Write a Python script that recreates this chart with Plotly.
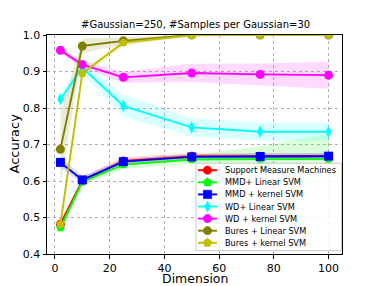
import math
import plotly.graph_objects as go

dims = [2, 10, 25, 50, 75, 100]

names = ["Support Measure Machines", "MMD+ Linear SVM", "MMD + kernel SVM",
         "WD+ Linear SVM", "WD + kernel SVM", "Bures + Linear SVM", "Bures + kernel SVM"]

smm = [0.482, 0.600, 0.655, 0.668, 0.668, 0.668]
mmd_lin = [0.472, 0.598, 0.645, 0.659, 0.660, 0.660]
mmd_ker = [0.651, 0.603, 0.653, 0.666, 0.667, 0.668]
wd_lin = [0.824, 0.911, 0.806, 0.747, 0.735, 0.735]
wd_ker = [0.958, 0.919, 0.884, 0.896, 0.892, 0.890]
bures_lin = [0.687, 0.970, 0.984, 1.000, 1.000, 1.000]
bures_ker = [0.482, 0.895, 0.979, 0.999, 1.000, 1.000]

smm_sd = [0.010, 0.010, 0.010, 0.008, 0.008, 0.008]
mmd_lin_sd = [0.015, 0.010, 0.012, 0.012, 0.035, 0.070]
mmd_ker_sd = [0.015, 0.010, 0.008, 0.008, 0.008, 0.008]
wd_lin_sd = [0.015, 0.015, 0.030, 0.025, 0.025, 0.025]
wd_ker_sd = [0.008, 0.010, 0.015, 0.025, 0.030, 0.037]
bures_lin_sd = [0.100, 0.020, 0.010, 0.002, 0.002, 0.002]
bures_ker_sd = [0.010, 0.010, 0.010, 0.002, 0.002, 0.002]

series = [smm, mmd_lin, mmd_ker, wd_lin, wd_ker, bures_lin, bures_ker]
sds = [smm_sd, mmd_lin_sd, mmd_ker_sd, wd_lin_sd, wd_ker_sd, bures_lin_sd, bures_ker_sd]
colors = ["#ff0000", "#00ff00", "#0000ff", "#00ffff", "#ff00ff", "#808000", "#bfbf00"]
fills = ["rgba(255,0,0,0.15)", "rgba(0,255,0,0.15)", "rgba(0,0,255,0.15)",
         "rgba(0,255,255,0.15)", "rgba(255,0,255,0.15)", "rgba(128,128,0,0.15)",
         "rgba(191,191,0,0.15)"]
symbols = ["circle", "pentagon", "square", "diamond-tall", "circle", "circle", "pentagon"]

fig = go.Figure()
for vals, sd, fc in zip(series, sds, fills):
    up = [v + s for v, s in zip(vals, sd)]
    lo = [v - s for v, s in zip(vals, sd)]
    fig.add_trace(go.Scatter(x=dims + dims[::-1], y=up + lo[::-1], fill="toself",
                             fillcolor=fc, line=dict(width=0), mode="lines",
                             showlegend=False, hoverinfo="skip"))
for name, vals, c, sym in zip(names, series, colors, symbols):
    fig.add_trace(go.Scatter(x=dims, y=vals, name=name, mode="lines+markers",
                             line=dict(color=c, width=1.9),
                             marker=dict(color=c, size=9, symbol=sym),
                             showlegend=False))

# ---- layout geometry (page body adds an 8px offset) ----
OFF = 8
W, H = 381, 286
ML, MR, MT, MB = 47 - OFF, 39 + OFF, 35 - OFF, 32 + OFF
PW, PH = W - ML - MR, H - MT - MB


def px_x(px):
    return (px - OFF - ML) / PW


def px_y(py):
    return (H - MB - (py - OFF)) / PH


def poly_path(pts):
    return "M " + " L ".join(f"{x:.2f},{y:.2f}" for x, y in pts) + " Z"


def marker_path(sym):
    if sym == "pentagon":
        r = 4.6
        pts = [(r * math.cos(math.radians(90 + 72 * k)), r * math.sin(math.radians(90 + 72 * k)))
               for k in range(5)]
    elif sym == "square":
        s = 4.2
        pts = [(-s, -s), (s, -s), (s, s), (-s, s)]
    elif sym == "diamond-tall":
        pts = [(0, 5.5), (3.3, 0), (0, -5.5), (-3.3, 0)]
    else:
        r = 4.2
        pts = [(r * math.cos(math.radians(a)), r * math.sin(math.radians(a))) for a in range(0, 360, 20)]
    return poly_path(pts)


shapes = [dict(type="rect", xref="paper", yref="paper",
               x0=px_x(196), x1=px_x(341.5), y0=px_y(250.7), y1=px_y(163.3),
               fillcolor="rgba(255,255,255,0.85)", line=dict(color="#cccccc", width=1),
               layer="above")]
annotations = []
for i, (name, c, sym) in enumerate(zip(names, colors, symbols)):
    cy = px_y(170.2 + i * 12.1)
    cx = px_x(207.5)
    shapes.append(dict(type="line", xref="paper", yref="paper", xsizemode="pixel",
                       ysizemode="pixel", xanchor=cx, yanchor=cy,
                       x0=-9.5, x1=9.5, y0=0, y1=0, line=dict(color=c, width=1.9),
                       layer="above"))
    shapes.append(dict(type="path", xref="paper", yref="paper", xsizemode="pixel",
                       ysizemode="pixel", xanchor=cx, yanchor=cy,
                       path=marker_path(sym), fillcolor=c, line=dict(color=c, width=0.5),
                       layer="above"))
    annotations.append(dict(text=name, xref="paper", yref="paper", x=px_x(223), y=cy,
                            xanchor="left", yanchor="middle", showarrow=False,
                            font=dict(size=8.2, color="black")))

# title and axis titles placed as text
annotations.append(dict(text="#Gaussian=250, #Samples per Gaussian=30", xref="paper", yref="paper",
                        x=px_x(195), y=px_y(24.5), xanchor="center", yanchor="middle",
                        showarrow=False, font=dict(size=10, color="black")))
annotations.append(dict(text="Dimension", xref="paper", yref="paper",
                        x=px_x(195), y=px_y(278.5), xanchor="center", yanchor="middle",
                        showarrow=False, borderpad=0, font=dict(size=12.5, color="black")))
annotations.append(dict(text="Accuracy", xref="paper", yref="paper", textangle=-90,
                        x=px_x(13.5), y=px_y(144), xanchor="center", yanchor="middle",
                        showarrow=False, font=dict(size=13, color="black")))

axis_common = dict(showline=True, linecolor="black", linewidth=1, mirror=True,
                   ticks="outside", ticklen=3.5, tickcolor="black",
                   showgrid=True, gridcolor="#b0b0b0", griddash="dot", gridwidth=1,
                   zeroline=False, automargin=False, tickfont=dict(size=11, color="black"))

fig.update_layout(
    width=W, height=H,
    margin=dict(l=ML, r=MR, t=MT, b=MB, autoexpand=False),
    paper_bgcolor="white", plot_bgcolor="white",
    font=dict(family="DejaVu Sans", color="black"),
    xaxis=dict(range=[-2.9, 104.9], tickvals=[0, 20, 40, 60, 80, 100], **axis_common),
    yaxis=dict(range=[0.4, 1.0], tickvals=[0.4, 0.5, 0.6, 0.7, 0.8, 0.9, 1.0],
               tickformat=".1f", **axis_common),
    shapes=shapes,
    annotations=annotations,
    showlegend=False,
)

fig.write_html("out.html")
